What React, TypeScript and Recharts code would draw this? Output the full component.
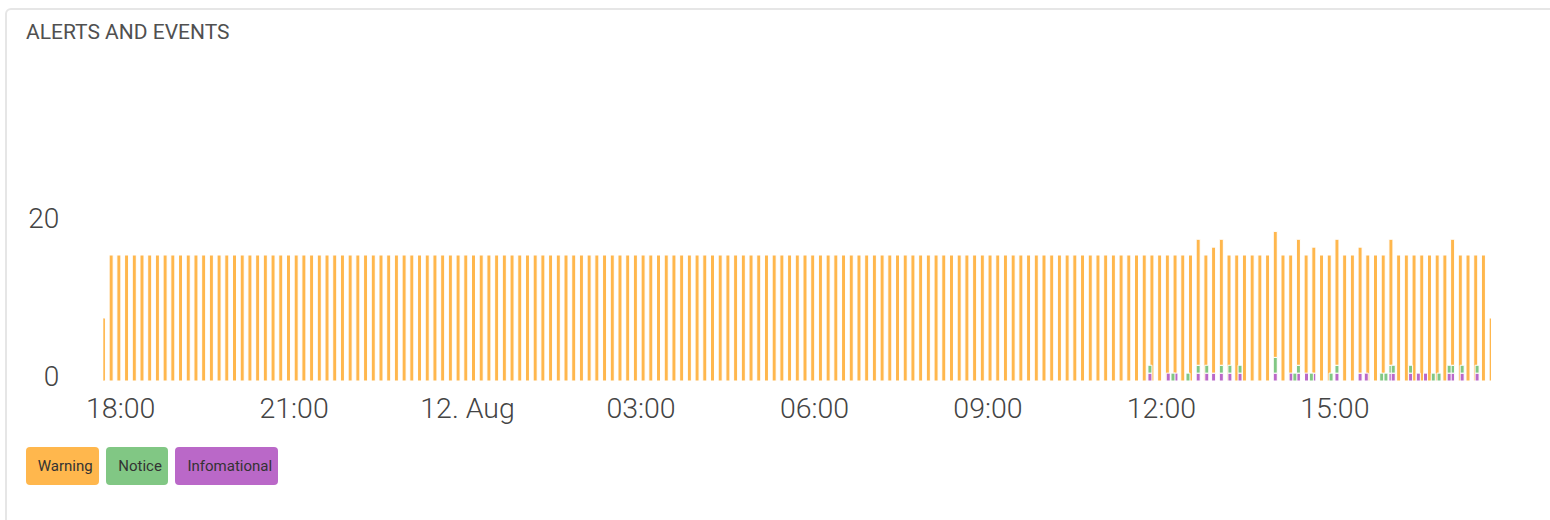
import React from 'react';
import { BarChart, Bar, XAxis, YAxis } from 'recharts';

// one bar every 8 minutes, first bar at 11 Aug 17:42 (minutes from 11 Aug 00:00)
const START_MIN = 17 * 60 + 42;
const STEP_MIN = 8;

const WARNING = [
  8, 16, 16, 16, 16, 16, 16, 16, 16, 16, 16, 16, 16, 16, 16, 16, 16, 16, 16, 16,
  16, 16, 16, 16, 16, 16, 16, 16, 16, 16, 16, 16, 16, 16, 16, 16, 16, 16, 16, 16,
  16, 16, 16, 16, 16, 16, 16, 16, 16, 16, 16, 16, 16, 16, 16, 16, 16, 16, 16, 16,
  16, 16, 16, 16, 16, 16, 16, 16, 16, 16, 16, 16, 16, 16, 16, 16, 16, 16, 16, 16,
  16, 16, 16, 16, 16, 16, 16, 16, 16, 16, 16, 16, 16, 16, 16, 16, 16, 16, 16, 16,
  16, 16, 16, 16, 16, 16, 16, 16, 16, 16, 16, 16, 16, 16, 16, 16, 16, 16, 16, 16,
  16, 16, 16, 16, 16, 16, 16, 16, 16, 16, 16, 16, 16, 16, 16, 16, 16, 16, 16, 16,
  16, 16, 16, 16, 16, 16, 16, 16, 16, 16, 16, 16, 16, 16, 16, 16, 16, 16, 16, 16,
  16, 16, 16, 16, 16, 16, 16, 16, 16, 16, 16, 16, 16, 16, 16, 16, 16, 16, 16, 16,
  8,
];

// notice / info that share the timestamp of a warning bar (stacked under it)
const STACK_BAR = [142, 144, 145, 152, 155, 157, 160, 163, 167, 175];
const STACK_NOTICE = [1, 0, 1, 2, 1, 0, 1, 0, 1, 1];
const STACK_INFO = [1, 1, 1, 1, 1, 1, 1, 1, 1, 1];

// notice / info logged a few minutes off the 8 minute grid
const OFF_BAR = [136, 138, 139, 139, 141, 143, 146, 147, 154, 154, 156, 157, 159, 164, 166, 166, 167, 169, 170, 171, 172, 173, 175, 176, 178];
const OFF_MIN = [-1.5, 1.5, -2.5, 1.5, -2, 1.5, 1.5, 4, 1, 4, 1, -2, 2.5, -1, -1, 2.5, 3, 5, 5, 4.5, 4.5, 2.5, -3, 2.5, 2];
const OFF_NOTICE = [1, 0, 1, 0, 1, 1, 1, 1, 0, 1, 0, 1, 1, 0, 1, 1, 1, 1, 0, 0, 1, 1, 1, 1, 1];
const OFF_INFO = [1, 1, 0, 1, 0, 1, 1, 1, 1, 0, 1, 0, 0, 1, 0, 0, 1, 1, 1, 1, 0, 0, 1, 1, 1];

const TICK_MIN = [1080, 1260, 1440, 1620, 1800, 1980, 2160, 2340];
const TICK_LABELS = ['18:00', '21:00', '12. Aug', '03:00', '06:00', '09:00', '12:00', '15:00'];
const Y_TICKS = [0, 20];

const SERIES = [
  { key: 'warning', name: 'Warning', color: '#FFB74D' },
  { key: 'notice', name: 'Notice', color: '#81C784' },
  { key: 'info', name: 'Infomational', color: '#BA68C8' },
];
const COLOR: Record<string, string> = { warning: '#FFB74D', notice: '#81C784', info: '#BA68C8' };

const X_MIN = START_MIN;
const X_MAX = START_MIN + (WARNING.length - 1) * STEP_MIN;

const CHART_W = 1550;
const CHART_H = 440;
const PLOT_LEFT = 103.3;
const PLOT_RIGHT = 1491;
const PLOT_TOP = 66;
const PLOT_BOTTOM = 381;
const Y_AXIS_W = 60;
const X_AXIS_H = 50;

type Row = { t: number; warning?: number; notice: number; info: number };

const gridRows: Row[] = WARNING.map((w, i) => ({ t: START_MIN + i * STEP_MIN, warning: w, notice: 0, info: 0 }));
STACK_BAR.forEach((b, k) => {
  gridRows[b].notice = STACK_NOTICE[k];
  gridRows[b].info = STACK_INFO[k];
});

// off-grid events go on overlay layers; keep points in a layer >= 5 min apart so recharts doesn't shrink the bars
const offLayers: Row[][] = [];
OFF_BAR.forEach((b, k) => {
  const row: Row = { t: START_MIN + b * STEP_MIN + OFF_MIN[k], notice: OFF_NOTICE[k], info: OFF_INFO[k] };
  let layer = offLayers.find((l) => l.every((r) => Math.abs(r.t - row.t) >= 5));
  if (!layer) {
    layer = [];
    offLayers.push(layer);
  }
  layer.push(row);
});
offLayers.forEach((l) => l.sort((a, b) => a.t - b.t));

const FONT = 'Roboto, sans-serif';

function XTick({ x, y, payload }: any) {
  return (
    <text x={x} y={y + 37} textAnchor="middle" fill="#444" fontSize={28.5} fontWeight={300} fontFamily={FONT}>
      {TICK_LABELS[TICK_MIN.indexOf(payload.value)]}
    </text>
  );
}

function YTick({ x, y, payload }: any) {
  return (
    <text x={x} y={y + 4.5} textAnchor="end" fill="#444" fontSize={28} fontWeight={300} fontFamily={FONT}>
      {payload.value}
    </text>
  );
}

const barProps = { barSize: 4, stroke: '#fff', strokeWidth: 1, isAnimationActive: false };

export default function App() {
  const overlayMargin = { top: PLOT_TOP, left: PLOT_LEFT, right: CHART_W - PLOT_RIGHT, bottom: CHART_H - PLOT_BOTTOM };
  return (
    <div style={{ position: 'fixed', left: 0, top: 0, width: 1550, height: 520, overflow: 'hidden', background: '#fff' }}>
      <div
        style={{
          position: 'absolute', left: 5, top: 8, width: 1600, height: 560, boxSizing: 'border-box',
          border: '2px solid #e6e6e6', borderRadius: 6, background: '#fff',
        }}
      />
      <div
        style={{
          position: 'absolute', left: 26, top: 21.6, fontFamily: FONT, fontSize: 21, lineHeight: '21px',
          color: '#505050', whiteSpace: 'nowrap',
        }}
      >
        ALERTS AND EVENTS
      </div>

      <div style={{ position: 'absolute', left: 0, top: 0 }}>
        <BarChart
          width={CHART_W}
          height={CHART_H}
          data={gridRows}
          margin={{ top: PLOT_TOP, left: PLOT_LEFT - Y_AXIS_W, right: CHART_W - PLOT_RIGHT, bottom: CHART_H - PLOT_BOTTOM - X_AXIS_H }}
        >
          <XAxis
            dataKey="t"
            type="number"
            domain={[X_MIN, X_MAX]}
            allowDataOverflow
            ticks={TICK_MIN}
            interval={0}
            height={X_AXIS_H}
            axisLine={false}
            tickLine={false}
            tickSize={0}
            tickMargin={0}
            tick={<XTick />}
          />
          <YAxis
            type="number"
            domain={[0, 40]}
            allowDataOverflow
            ticks={Y_TICKS}
            interval={0}
            width={Y_AXIS_W}
            axisLine={false}
            tickLine={false}
            tickSize={0}
            tickMargin={44}
            tick={<YTick />}
          />
          <Bar dataKey="info" stackId="a" fill={COLOR.info} {...barProps} />
          <Bar dataKey="notice" stackId="a" fill={COLOR.notice} {...barProps} />
          <Bar dataKey="warning" stackId="a" fill={COLOR.warning} {...barProps} />
        </BarChart>
      </div>

      {offLayers.map((layer, li) => (
        <div key={li} style={{ position: 'absolute', left: 0, top: 0 }}>
          <BarChart width={CHART_W} height={CHART_H} data={layer} margin={overlayMargin}>
            <XAxis dataKey="t" type="number" domain={[X_MIN, X_MAX]} allowDataOverflow hide />
            <YAxis type="number" domain={[0, 40]} allowDataOverflow hide />
            <Bar dataKey="info" stackId="a" fill={COLOR.info} {...barProps} />
            <Bar dataKey="notice" stackId="a" fill={COLOR.notice} {...barProps} />
          </BarChart>
        </div>
      ))}

      <div style={{ position: 'absolute', left: 25.7, top: 447.3, display: 'flex', gap: 7.6 }}>
        {SERIES.map((s) => (
          <div
            key={s.key}
            style={{
              background: s.color, height: 38, lineHeight: '38px', padding: '0 6px 0 12px', borderRadius: 4,
              fontFamily: FONT, fontSize: 15, color: '#333', whiteSpace: 'nowrap',
            }}
          >
            {s.name}
          </div>
        ))}
      </div>
    </div>
  );
}
